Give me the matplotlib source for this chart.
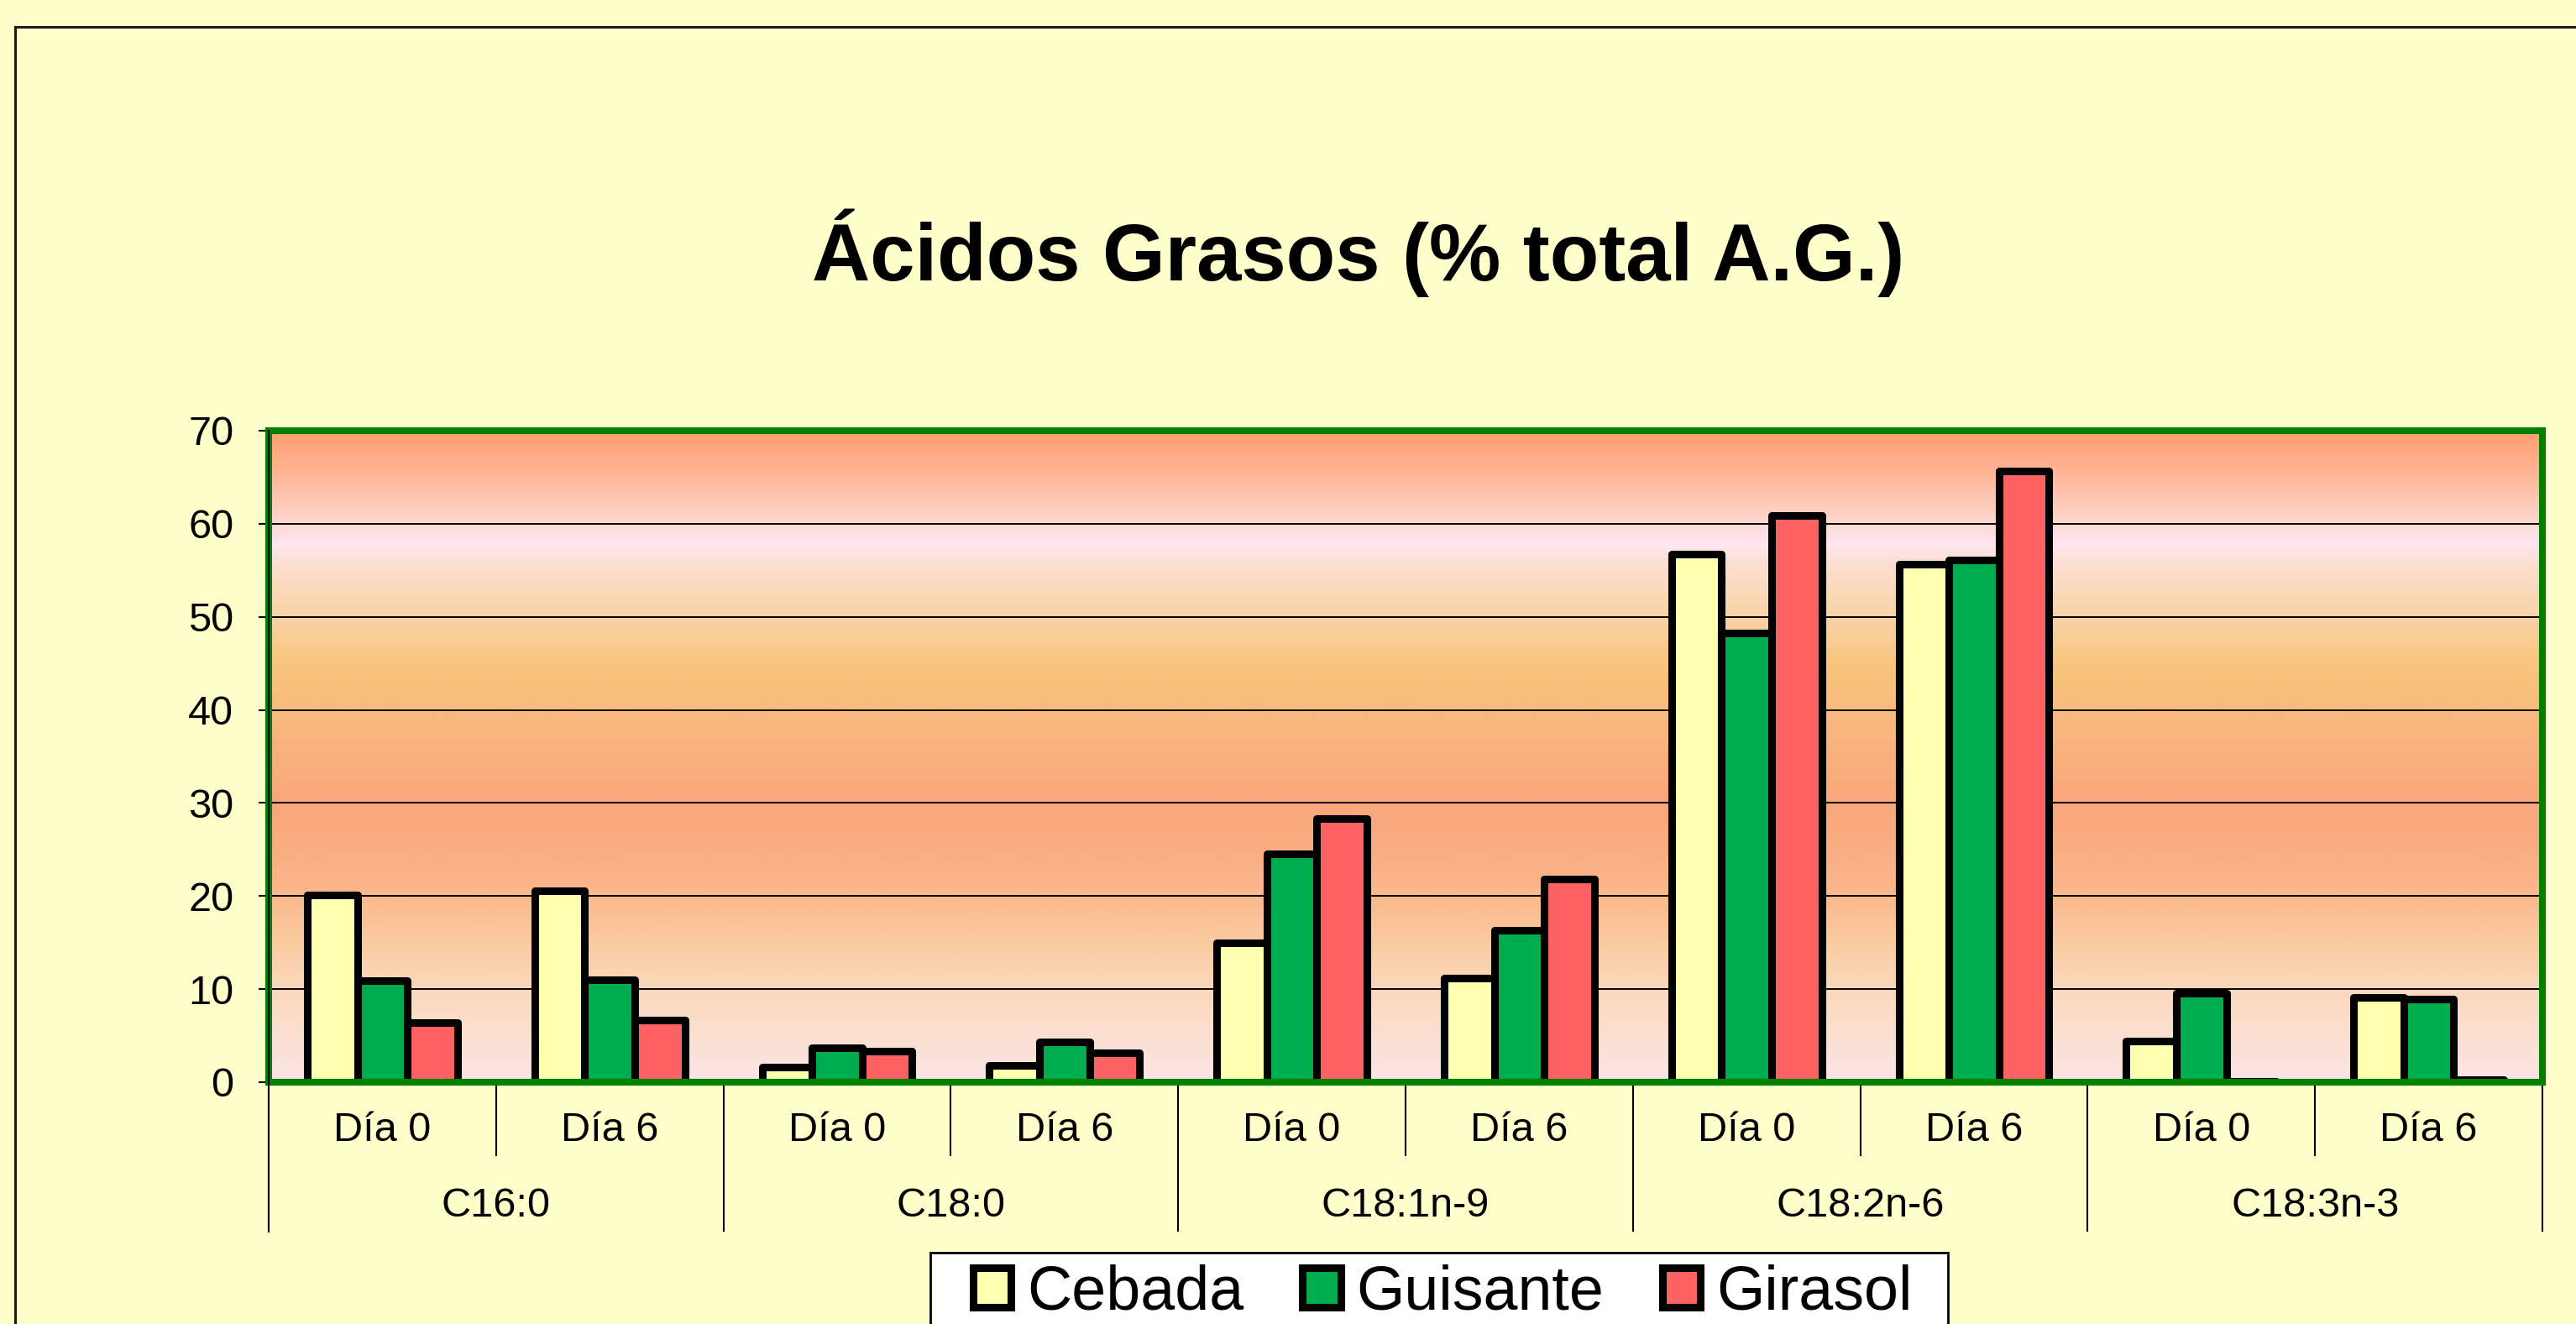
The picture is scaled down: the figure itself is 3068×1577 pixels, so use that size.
import matplotlib
matplotlib.use("Agg")
import matplotlib.pyplot as plt
import numpy as np
from matplotlib.colors import LinearSegmentedColormap
from matplotlib.patches import Rectangle

# ---- data ----
categories = ["C16:0", "C18:0", "C18:1n-9", "C18:2n-6", "C18:3n-3"]
days = ["Día 0", "Día 6"]
series = ["Cebada", "Guisante", "Girasol"]
cebada = [20.1, 20.6, 1.6, 1.8, 15.0, 11.2, 56.7, 55.7, 4.4, 9.1]
guisante = [10.95, 11.0, 3.7, 4.3, 24.5, 16.3, 48.3, 56.1, 9.6, 8.9]
girasol = [6.4, 6.7, 3.3, 3.2, 28.3, 21.8, 60.9, 65.7, 0.1, 0.3]
yticks = [0, 10, 20, 30, 40, 50, 60, 70]
title = "Ácidos Grasos (% total A.G.)"

colors = ["#FFFFB0", "#00AD4E", "#FF6262"]
bg = "#FFFFCC"

plt.rcParams["font.family"] = ["Liberation Sans", "DejaVu Sans"]

W, H = 3068, 1577
fig = plt.figure(figsize=(W / 100, H / 100), dpi=100, facecolor=bg)

# outer border
fig.patches.append(Rectangle((18 / W, -0.1), 1.5, 1 - 32 / H + 0.1, transform=fig.transFigure,
                             fill=False, edgecolor="#1a1a1a", linewidth=2.2, zorder=0))

ax = fig.add_axes([320 / W, 1 - 1289 / H, (3028 - 320) / W, (1289 - 513) / H])
ax.set_facecolor(bg)

# gradient background
stops = [(0, "#FCE4E6"), (5, "#FBDFD0"), (10, "#FAD8BC"), (15, "#FACBA0"), (20, "#FAB98C"),
         (25, "#FAAD82"), (30, "#F9A67C"), (35, "#F9B07D"), (40, "#F8BB7D"), (45, "#F8C57E"),
         (50, "#F9D3A6"), (55, "#FBDDCA"), (58, "#FFE5F0"), (61, "#FFD2C6"), (65, "#FFB99C"),
         (70, "#FF9E70")]
cmap = LinearSegmentedColormap.from_list("bggrad", [(v / 70, c) for v, c in stops])
grad = np.linspace(0, 1, 512).reshape(-1, 1)
ax.imshow(grad, extent=[0, 10, 0, 70], origin="lower", aspect="auto", cmap=cmap, zorder=0)

n = len(cebada)
x = np.arange(n) + 0.5
w = 0.22
for i, (vals, col, name) in enumerate(zip([cebada, guisante, girasol], colors, series)):
    ax.bar(x + (i - 1) * w, vals, width=w, color=col, edgecolor="black", linewidth=6.5,
           label=name, zorder=3, joinstyle="round")

ax.set_xlim(0, 10)
ax.set_ylim(0, 70)
ax.set_yticks(yticks)
ax.set_yticklabels([str(t) for t in yticks])
ax.tick_params(axis="y", labelsize=35, length=9, width=1.5, pad=21, direction="out")
for yv in yticks[1:-1]:
    ax.axhline(yv, color="black", linewidth=1.4, zorder=1)

# x ticks as separators
ax.set_xticks(np.arange(0, 11, 2))
ax.set_xticklabels([])
ax.set_xticks(np.arange(1, 10, 2), minor=True)
ax.tick_params(axis="x", which="major", length=128, width=1.5, direction="out")
ax.tick_params(axis="x", which="minor", length=63, width=1.5, direction="out")

for s in ax.spines.values():
    s.set_color("#008000")
    s.set_linewidth(5.8)
    s.set_zorder(4)

# black axis line on left
ax.plot([0, 0], [1, -0.2295], transform=ax.transAxes, color="black", linewidth=1.5,
        clip_on=False, zorder=5)

trans = ax.get_xaxis_transform()
for i in range(n):
    ax.text(x[i], -0.0747, days[i % 2], transform=trans, ha="center", va="center", fontsize=35)
for j, cat in enumerate(categories):
    ax.text(2 * j + 1, -0.1907, cat, transform=trans, ha="center", va="center", fontsize=35)

fig.text(1618 / W, 1 - 334 / H, title, ha="center", va="baseline", fontsize=69,
         fontweight="bold")

# legend
fig.patches.append(Rectangle((1108 / W, -0.1), (2320 - 1108) / W, 0.1 + 1 - 1492 / H,
                             transform=fig.transFigure, facecolor="white", edgecolor="black",
                             linewidth=2, zorder=1))
leg = fig.legend(loc="center", bbox_to_anchor=(1718 / W, 1 - 1540 / H), ncol=3, fontsize=53,
                 frameon=False, handlelength=0.62, handleheight=0.62, handletextpad=0.25,
                 columnspacing=0.95, borderpad=0.0)
leg.set_zorder(6)

fig.savefig("out.png", dpi=100, facecolor=bg)
